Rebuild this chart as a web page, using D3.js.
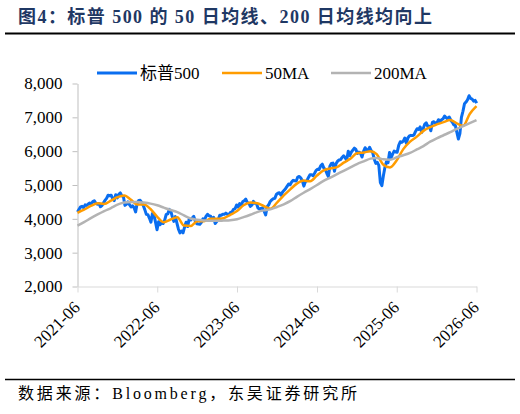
<!DOCTYPE html>
<html><head><meta charset="utf-8">
<script src="https://cdn.jsdelivr.net/npm/d3@7"></script>
<style>body{margin:0;background:#fff}</style>
</head><body>
<svg id="c" width="520" height="414"></svg>
<script>
// ---- DATA (weekly closes) ----
const spx2021Start = "2021-06-18";
const spx2021 = [4200,4281,4352,4370,4327,4412,4395,4437,4468,4442,4509,4535,4459,4433,4455,4357,4391,4471,4545,4605,4697,4682,4698,4595,4538,4712,4620,4725,4766];
const spx2022Start = "2022-01-07";
const spx2022 = [4677,4662,4398,4432,4500,4419,4349,4385,4329,4204,4463,4543,4546,4488,4393,4272,4132,4123,4023,3901,4158,4109,3901,3675,3912,3825,3899,3863,3962,4130,4145,4280,4228,4058,3924,4067,3873,3693,3586,3640,3583,3752,3901,3771,3993,3965,4026,4072,3934,3852,3845,3840];
const spx2023Start = "2023-01-06";
const spx2023 = [3895,3999,3973,4071,4136,4090,4079,3970,4046,3862,3917,3971,4109,4105,4138,4133,4169,4136,4124,4192,4205,4282,4299,4410,4348,4450,4399,4505,4536,4582,4478,4464,4370,4406,4516,4457,4450,4320,4288,4309,4327,4224,4117,4358,4415,4514,4559,4595,4604,4719,4755,4770];
const spx2024Start = "2024-01-05";
const spx2024 = [4697,4784,4840,4891,4959,5027,5006,5089,5137,5124,5117,5234,5254,5204,5123,4967,5100,5128,5223,5303,5305,5278,5347,5432,5465,5460,5567,5615,5505,5459,5346,5250,5554,5635,5648,5408,5626,5703,5738,5751,5815,5864,5808,5729,5996,5871,5969,6032,6090,6051,5931,5971];
const spx2025Start = "2025-01-03";
const spx2025 = [5942,5827,5997,6101,6041,6026,6115,6013,5955,5770,5639,5668,5581,5074,4982,5283,5525,5687,5660,5958,5803,5912,6000,5977,5968,6173,6279,6260,6297,6389,6238,6389,6450,6467,6460,6482,6584,6664,6644,6716,6553,6664,6792,6840,6729,6734,6603,6849,6870,6827,6834,6930];
const spx2026Start = "2026-01-02";
const spx2026 = [6870,6930,6960,7040,6990,6950,7010,6920,6860,6780,6760,6560,6360,6520,7000,7180,7400,7450,7520,7640,7560,7540,7480,7500,7420];

// monthly moving-average readings, starting at maStart
const maStart = "2021-06-18";
const ma50 = [4180,4270,4380,4460,4440,4540,4640,
  4690,4560,4420,4420,4290,4060,3900,3980,4050,3800,3790,3930,
  3930,4000,4000,4020,4120,4230,4400,4480,4460,4380,4300,4480,
  4690,4880,5040,5130,5110,5280,5430,5490,5530,5660,5780,5940,
  5960,6000,5910,5600,5520,5730,6060,6280,6430,6600,6710,6790,
  6860,6920,6830,6750,7100,7330];
const ma200 = [3800,3900,4020,4130,4230,4320,4420,
  4480,4500,4500,4480,4450,4400,4330,4260,4200,4100,4010,3970,
  3950,3940,3940,3950,3960,3990,4050,4120,4200,4250,4280,4350,
  4430,4530,4650,4770,4880,5000,5120,5220,5320,5420,5520,5620,
  5700,5780,5800,5760,5750,5820,5880,5950,6050,6150,6280,6380,
  6470,6560,6650,6740,6830,6920];

const seriesNames = ["标普500","50MA","200MA"];
const yTicks = [2000,3000,4000,5000,6000,7000,8000];
const xTickDates = ["2021-06-18","2022-06-18","2023-06-18","2024-06-18","2025-06-18","2026-06-18"];
const domainDates = ["2021-06-18","2026-06-18"];
const titleText = "图4：标普 500 的 50 日均线、200 日均线均向上";
const sourceText = "数据来源：Bloomberg，东吴证券研究所";

// ---- DRAW ----
const parse = d3.timeParse("%Y-%m-%d");
const colors = ["#0a6ef0","#ff9c00","#b3b3b3"];
const svg = d3.select("#c");
svg.append("rect").attr("width",520).attr("height",414).attr("fill","#fff");

const x = d3.scaleTime().domain(domainDates.map(parse)).range([77.5, 476.5]);
const y = d3.scaleLinear().domain([2000, 8000]).range([286.5, 83.5]);

function weekly(start, arr){ const s = parse(start); return arr.map((v,i)=>({d:d3.timeDay.offset(s,7*i), v})); }
const spx = [].concat(
  weekly(spx2021Start, spx2021), weekly(spx2022Start, spx2022), weekly(spx2023Start, spx2023),
  weekly(spx2024Start, spx2024), weekly(spx2025Start, spx2025), weekly(spx2026Start, spx2026));
function monthly(start, arr){ const s = parse(start); return arr.map((v,i)=>({d:d3.timeMonth.offset(s,i), v})); }
const m50 = monthly(maStart, ma50), m200 = monthly(maStart, ma200);

const serif = "'Liberation Serif','Noto Sans CJK SC',serif";

// title
svg.append("text").attr("x",18).attr("y",23).attr("font-family",serif).attr("font-weight","bold")
  .attr("font-size",18).attr("fill","#1f3864").attr("textLength",414).attr("lengthAdjust","spacing").text(titleText);
svg.append("line").attr("x1",5).attr("x2",515).attr("y1",33.5).attr("y2",33.5).attr("stroke","#000").attr("stroke-width",2);

// axes
const gy = svg.append("g").attr("transform","translate(77.5,0)")
  .call(d3.axisLeft(y).tickValues(yTicks).tickSize(5).tickSizeOuter(0).tickPadding(10).tickFormat(d3.format(",")));
gy.select(".domain").attr("stroke","#bfbfbf");
gy.selectAll(".tick line").attr("stroke","#bfbfbf");
gy.selectAll(".tick text").attr("font-family",serif).attr("font-size",17).attr("fill","#000");

const gx = svg.append("g").attr("transform","translate(0,286.5)")
  .call(d3.axisBottom(x).tickValues(xTickDates.map(parse)).tickSize(6).tickSizeOuter(0).tickFormat(d3.timeFormat("%Y-%m")));
gx.select(".domain").attr("stroke","#d9d9d9");
gx.selectAll(".tick line").attr("stroke","#d9d9d9");
gx.selectAll(".tick text").attr("font-family",serif).attr("font-size",17).attr("fill","#000")
  .attr("text-anchor","end").attr("dy",0).attr("y",0)
  .attr("transform","translate(3,22) rotate(-45)");

// lines
const lineL = d3.line().x(d=>x(d.d)).y(d=>y(d.v));
const lineS = d3.line().x(d=>x(d.d)).y(d=>y(d.v)).curve(d3.curveMonotoneX);
svg.append("path").datum(spx).attr("d",lineL).attr("fill","none").attr("stroke",colors[0]).attr("stroke-width",3).attr("stroke-linejoin","round");
svg.append("path").datum(m50).attr("d",lineS).attr("fill","none").attr("stroke",colors[1]).attr("stroke-width",2.5);
svg.append("path").datum(m200).attr("d",lineS).attr("fill","none").attr("stroke",colors[2]).attr("stroke-width",2.5);

// legend
const legX = [97, 222, 331];
seriesNames.forEach((n,i)=>{
  svg.append("line").attr("x1",legX[i]).attr("x2",legX[i]+40).attr("y1",73).attr("y2",73)
    .attr("stroke",colors[i]).attr("stroke-width",i==0?3:2.5);
  svg.append("text").attr("x",legX[i]+43).attr("y",79).attr("font-family",serif).attr("font-size",17)
    .attr("fill","#000").text(n);
});

// footer
svg.append("line").attr("x1",5).attr("x2",515).attr("y1",379.5).attr("y2",379.5).attr("stroke","#000").attr("stroke-width",1.5);
svg.append("text").attr("x",18).attr("y",399).attr("font-family",serif).attr("font-size",16)
  .attr("fill","#000").attr("textLength",339).attr("lengthAdjust","spacing").text(sourceText);
</script>
</body></html>
